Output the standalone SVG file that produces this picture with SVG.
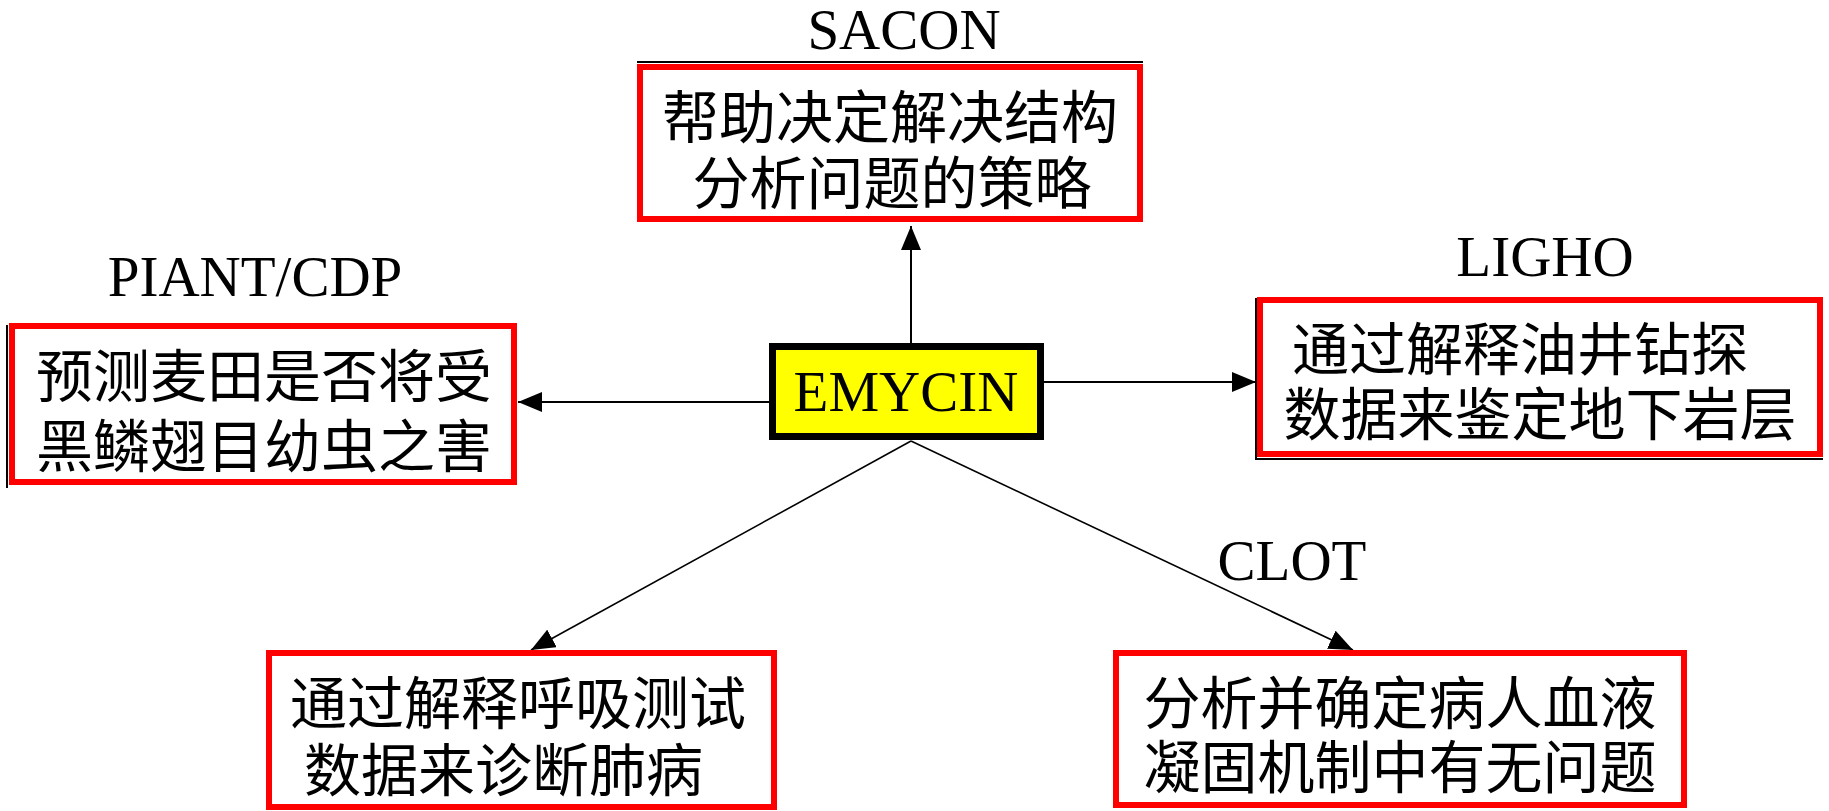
<svg xmlns="http://www.w3.org/2000/svg" width="1829" height="811" viewBox="0 0 1829 811">
<style>
.box{fill:#ffffff;stroke:#ff0000;stroke-width:6}
.shadow{fill:none;stroke:#000000;stroke-width:2}
.core{fill:#ffff00;stroke:#000000;stroke-width:7}
.lbl{font-family:"Liberation Serif","Times New Roman",serif;font-size:57px;fill:#000000;text-anchor:middle}
.cjk{font-family:"Noto Sans CJK SC","Noto Sans",sans-serif;font-size:57px;fill:#000000}
.mid{text-anchor:middle}
.ln{stroke:#000000;stroke-width:2;fill:none}
.dg{stroke:#000000;stroke-width:1.6;fill:none}
</style>
<defs>
<marker id="ah" viewBox="0 0 24 20" refX="24" refY="10" markerWidth="24" markerHeight="20" markerUnits="userSpaceOnUse" orient="auto">
<path d="M0,0 L24,10 L0,20 Z" fill="#000000"/>
</marker>
</defs>
<rect width="1829" height="811" fill="#ffffff"/>
<g id="connectors">
<line class="ln" x1="911" y1="343" x2="911" y2="226" marker-end="url(#ah)"/>
<line class="ln" x1="769" y1="402" x2="518" y2="402" marker-end="url(#ah)"/>
<line class="ln" x1="1044" y1="382" x2="1256" y2="382" marker-end="url(#ah)"/>
<line class="dg" x1="911" y1="441" x2="531" y2="650" marker-end="url(#ah)"/>
<line class="dg" x1="911" y1="441" x2="1353" y2="650" marker-end="url(#ah)"/>
</g>
<g id="emycin">
<rect class="core" x="772.5" y="346.5" width="268" height="90"/>
<text class="lbl" x="906" y="411">EMYCIN</text>
</g>
<g id="sacon">
<text class="lbl" x="904" y="49">SACON</text>
<path class="shadow" d="M637,62 H1143"/>
<rect class="box" x="640" y="67" width="500" height="152"/>
<text class="cjk mid" x="890" y="138">帮助决定解决结构</text>
<text class="cjk mid" x="892" y="204">分析问题的策略</text>
</g>
<g id="piant">
<text class="lbl" x="255" y="296">PIANT/CDP</text>
<path class="shadow" d="M7,325 V488"/>
<rect class="box" x="12" y="326" width="502" height="156"/>
<text class="cjk mid" x="264" y="397">预测麦田是否将受</text>
<text class="cjk mid" x="264" y="467">黑鳞翅目幼虫之害</text>
</g>
<g id="ligho">
<text class="lbl" x="1545" y="276">LIGHO</text>
<path class="shadow" d="M1256,298 V459 H1823"/>
<rect class="box" x="1260" y="300" width="560" height="154"/>
<text class="cjk" x="1292" y="370">通过解释油井钻探</text>
<text class="cjk mid" x="1540" y="435">数据来鉴定地下岩层</text>
</g>
<g id="breath">
<rect class="box" x="269" y="653" width="505" height="154"/>
<text class="cjk mid" x="518" y="724">通过解释呼吸测试</text>
<text class="cjk" x="304" y="791">数据来诊断肺病</text>
</g>
<g id="clot">
<text class="lbl" x="1292" y="580">CLOT</text>
<rect class="box" x="1116" y="653" width="568" height="152"/>
<text class="cjk mid" x="1400" y="724">分析并确定病人血液</text>
<text class="cjk mid" x="1400" y="788">凝固机制中有无问题</text>
</g>
</svg>
